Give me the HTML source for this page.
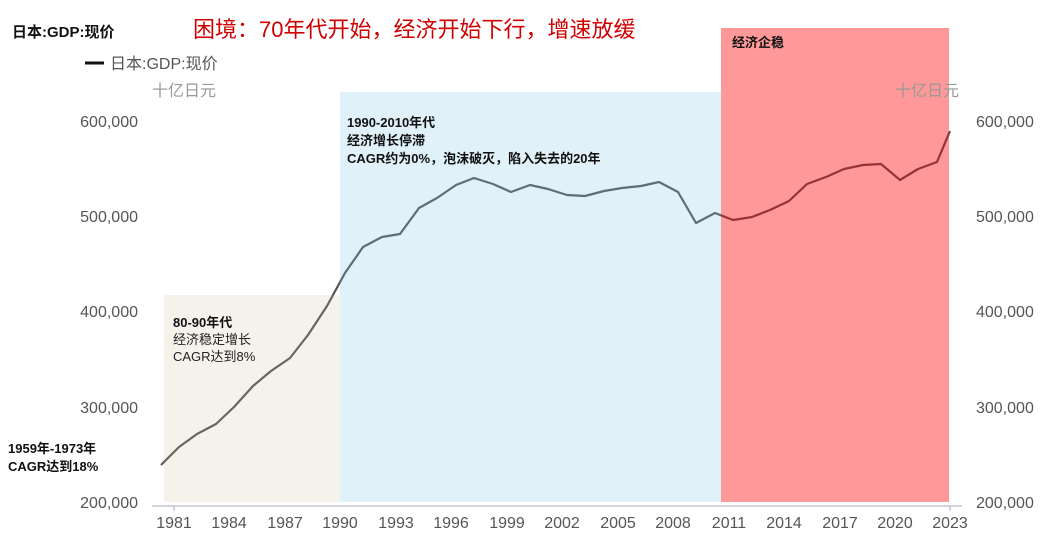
<!DOCTYPE html>
<html><head><meta charset="utf-8"><style>
body{margin:0;background:#fff;}
svg{display:block;font-family:"Liberation Sans","Noto Sans CJK SC",sans-serif;}
</style></head><body>
<svg width="1049" height="547" viewBox="0 0 1049 547">
<polyline fill="none" stroke="#555" stroke-width="2.2" stroke-linejoin="round" points="161,465 179,447 197,434 216,424 234,407 253,386 271,371 290,358 308,335 327,306 345,273 363,247 382,237 400,234 419,208 437,198 456,185 474,178 493,184 511,192 530,185 548,189 567,195 585,196 604,191 622,188 641,186 659,182 678,192 696,223 715,213 733,220 752,217 770,210 789,201 807,184 826,177 844,169 863,165 881,164 900,180 918,169 937,162 950,131"/>
<rect x="164" y="295" width="176" height="207" fill="rgb(200,185,150)" fill-opacity="0.18"/>
<rect x="340" y="92" width="381" height="410" fill="rgb(120,195,230)" fill-opacity="0.23"/>
<rect x="721" y="28" width="228" height="474" fill="rgb(255,0,0)" fill-opacity="0.4"/>
<line x1="152" y1="506" x2="962" y2="506" stroke="#aab" stroke-width="1"/>
<g stroke="#aab"><line x1="174" y1="506" x2="174" y2="511"/><line x1="950" y1="506" x2="950" y2="511"/></g>
<g font-size="16" fill="#555" text-anchor="middle">
<text x="174" y="528">1981</text><text x="229" y="528">1984</text><text x="285" y="528">1987</text><text x="340" y="528">1990</text><text x="396" y="528">1993</text><text x="451" y="528">1996</text><text x="507" y="528">1999</text><text x="562" y="528">2002</text><text x="618" y="528">2005</text><text x="673" y="528">2008</text><text x="729" y="528">2011</text><text x="784" y="528">2014</text><text x="840" y="528">2017</text><text x="895" y="528">2020</text><text x="950" y="528">2023</text>
</g>
<g font-size="16" fill="#555" text-anchor="end">
<text x="138" y="127">600,000</text><text x="138" y="222">500,000</text><text x="138" y="317">400,000</text><text x="138" y="413">300,000</text><text x="138" y="508">200,000</text>
</g>
<g font-size="16" fill="#555">
<text x="976" y="127">600,000</text><text x="976" y="222">500,000</text><text x="976" y="317">400,000</text><text x="976" y="413">300,000</text><text x="976" y="508">200,000</text>
</g>
<text x="12" y="37" font-size="15" font-weight="bold" fill="#111">日本:GDP:现价</text>
<text x="193" y="37" font-size="22" fill="#d00000">困境：70年代开始，经济开始下行，增速放缓</text>
<line x1="85" y1="63" x2="104" y2="63" stroke="#111" stroke-width="3"/>
<text x="110" y="69" font-size="16" fill="#555">日本:GDP:现价</text>
<text x="152" y="96" font-size="16" fill="#999">十亿日元</text>
<text x="895" y="96" font-size="16" fill="#999">十亿日元</text>
<g font-size="13" font-weight="bold" fill="#111">
<text x="347" y="127">1990-2010年代</text><text x="347" y="145">经济增长停滞</text><text x="347" y="163">CAGR约为0%，泡沫破灭，陷入失去的20年</text>
<text x="732" y="47">经济企稳</text>
<text x="173" y="327">80-90年代</text>
<text x="8" y="453">1959年-1973年</text><text x="8" y="471">CAGR达到18%</text>
</g>
<g font-size="13" fill="#222"><text x="173" y="344">经济稳定增长</text><text x="173" y="361">CAGR达到8%</text></g>
</svg>
</body></html>
